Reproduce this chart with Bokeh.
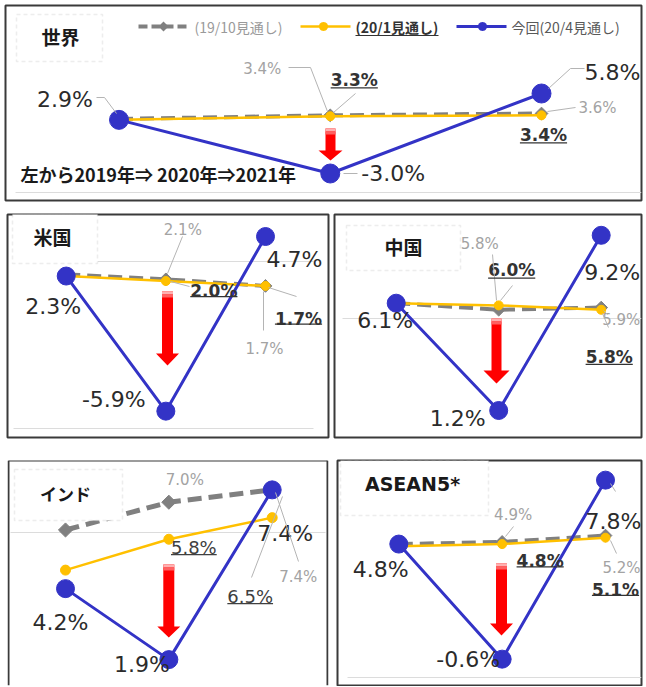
import numpy as np
from bokeh.plotting import figure
from bokeh.layouts import column, row
from bokeh.models import Arrow, BoxAnnotation, Label, PolyAnnotation, Range1d
from bokeh.core.properties import value
from bokeh.embed import file_html
from bokeh.resources import INLINE

# ---------------- data ----------------
years = [2019, 2020, 2021]
xi = [0, 1, 2]

world_oct = [3.0, 3.4, 3.6]
world_jan = [2.9, 3.3, 3.4]
world_apr = [2.9, -3.0, 5.8]

us_oct = [2.4, 2.1, 1.7]
us_jan = [2.3, 2.0, 1.7]
us_apr = [2.3, -5.9, 4.7]

china_oct = [6.1, 5.8, 5.9]
china_jan = [6.1, 6.0, 5.8]
china_apr = [6.1, 1.2, 9.2]

india_oct = [6.1, 7.0, 7.4]
india_jan = [4.8, 5.8, 6.5]
india_apr = [4.2, 1.9, 7.4]

asean_oct = [4.8, 4.9, 5.2]
asean_jan = [4.7, 4.8, 5.1]
asean_apr = [4.8, -0.6, 7.8]

legend_labels = ["(19/10見通し)", "(20/1見通し)", "今回(20/4見通し)"]
panel_titles = ["世界", "米国", "中国", "インド", "ASEAN5*"]
caption = "左から2019年⇒ 2020年⇒2021年"

# ---------------- styles ----------------
BLUE = "#3333C6"
GOLD = "#FFC000"
GRAY = "#808080"
LEAD = "#b4b4b4"
FAINT = "#dcdcdc"
RED = "#FF0000"
EDGE = "#3a3a3a"
JP = "Noto Sans CJK JP"
NUM = "DejaVu Sans"
KINDS = {
    "big": (22, "#2b2b2b", "normal"),
    "gray": (15, "#a3a3a3", "normal"),
    "bold": (17, "#333333", "bold"),
    "ul": (18, "#404040", "normal"),
}


class Panel:
    """box = frame rectangle in page pixels; borders = (left, right, top, bottom)."""

    def __init__(self, box, borders, xpx, a1, a2, outline=True):
        bx0, by0, bx1, by1 = box
        w, h = bx1 - bx0, by1 - by0
        self.w, self.h, self.bx0, self.by0 = w, h, bx0, by0
        s0, s2 = xpx[0] - bx0, xpx[1] - bx0
        self.upx = 2.0 / (s2 - s0)
        self.x0 = -s0 * self.upx
        t1, t2 = a1[0] - by0, a2[0] - by0
        self.vpp = (a1[1] - a2[1]) / (t2 - t1)
        ytop = a1[1] + t1 * self.vpp
        self.y0 = ytop - h * self.vpp
        bl, br, bt, bb = borders
        p = figure(width=w + bl + br, height=h + bt + bb,
                   x_range=Range1d(self.x0, self.x0 + w * self.upx),
                   y_range=Range1d(self.y0, ytop),
                   output_backend="svg", toolbar_location=None,
                   x_axis_location=None, y_axis_location=None,
                   min_border_left=bl, min_border_right=br,
                   min_border_top=bt, min_border_bottom=bb,
                   background_fill_color="white", border_fill_color="white",
                   outline_line_color=EDGE if outline else None,
                   outline_line_width=2)
        p.grid.visible = False
        self.p = p

    def sx(self, x):
        return x - self.bx0

    def sy(self, y):
        return self.h - (y - self.by0)

    def dsx(self, i):
        return (i - self.x0) / self.upx

    def dsy(self, v):
        return (v - self.y0) / self.vpp

    def seg_screen(self, x0, y0, x1, y1, color, width, dash="solid", level="annotation"):
        self.p.add_layout(Arrow(end=None, x_start=x0, y_start=y0, x_end=x1, y_end=y1,
                                start_units="screen", end_units="screen",
                                line_color=color, line_width=width, line_dash=dash,
                                level=level))

    def seg(self, pts, color, width, dash="solid", level="annotation"):
        for (x0, y0), (x1, y1) in zip(pts[:-1], pts[1:]):
            self.seg_screen(self.sx(x0), self.sy(y0), self.sx(x1), self.sy(y1),
                            color, width, dash, level)

    def poly(self, pts, color):
        self.p.add_layout(PolyAnnotation(xs=[self.sx(x) for x, _ in pts],
                                         ys=[self.sy(y) for _, y in pts],
                                         xs_units="screen", ys_units="screen",
                                         fill_color=color, fill_alpha=1.0,
                                         line_color=None))

    def circle(self, cx, cy, r, color):
        ang = np.linspace(0, 2 * np.pi, 24, endpoint=False)
        self.poly([(cx + r * np.cos(a), cy + r * np.sin(a)) for a in ang], color)

    def box(self, l, t, r, b):
        self.p.add_layout(BoxAnnotation(left=self.sx(l), right=self.sx(r),
                                        top=self.sy(t), bottom=self.sy(b),
                                        left_units="screen", right_units="screen",
                                        top_units="screen", bottom_units="screen",
                                        fill_color="white", fill_alpha=1.0,
                                        line_color="#c4c4c4", line_dash="4 3",
                                        line_width=1.5, level="annotation"))

    def label(self, x, y, text, size, color, font, style="normal", align="left"):
        self.p.add_layout(Label(x=self.sx(x), y=self.sy(y), x_units="screen",
                                y_units="screen", text=text, text_font=font,
                                text_font_size=f"{size}px", text_font_style=style,
                                text_color=color, text_align=align,
                                text_baseline="middle"))

    def red_arrow(self, cx, top, tip, sw, hw, hl):
        self.poly([(cx - sw, top), (cx + sw, top), (cx + sw, tip - hl), (cx + hw, tip - hl),
                   (cx, tip), (cx - hw, tip - hl), (cx - sw, tip - hl)], RED)
        # faded top of the shaft
        self.poly([(cx - sw, top), (cx + sw, top), (cx + sw, top + 3), (cx - sw, top + 3)],
                  "#ffb0b0")
        self.poly([(cx - sw, top + 3), (cx + sw, top + 3), (cx + sw, top + 6),
                   (cx - sw, top + 6)], "#ff6060")

    def series(self, oct_, jan_, apr_, gw=4, dsize=9, ysize=9, bsize=18):
        p = self.p
        p.line(xi, oct_, line_color=GRAY, line_width=gw, line_dash="14 7")
        p.scatter(xi, oct_, marker="square", angle=np.pi / 4, size=dsize,
                  fill_color=GRAY, line_color=GRAY)
        p.line(xi, jan_, line_color=GOLD, line_width=2.5)
        p.scatter(xi, jan_, size=ysize, fill_color=GOLD, line_color=GOLD)
        p.line(xi, apr_, line_color=BLUE, line_width=3)
        p.scatter(xi, apr_, size=bsize, fill_color=BLUE, line_color=BLUE)

    def dlabels(self, specs, data):
        for key, i, dx, dy, kind in specs:
            v = data[key][i]
            size, color, style = KINDS[kind]
            self.p.text(x=[i], y=[v], text=[f"{v:.1f}%"], x_offset=dx, y_offset=dy,
                        text_align="center", text_baseline="middle",
                        text_font=value(NUM), text_font_size=f"{size}px",
                        text_font_style=style, text_color=color)
            if kind in ("bold", "ul"):
                wid = (2.774 if style == "bold" else 2.54) * size
                cx = self.dsx(i) + dx
                cy = self.dsy(v) - dy - 0.45 * size
                self.seg_screen(cx - wid / 2, cy, cx + wid / 2, cy, color, 1.2)


# ---------------- World ----------------
W = Panel((5, 5, 641, 200), (5, 4, 5, 5), (118.5, 541), (173, -3.0), (93, 5.8))
W.seg([(15, 192), (641, 192)], FAINT, 1, level="underlay")
W.series(world_oct, world_jan, world_apr, bsize=19)
W.red_arrow(330, 128, 160, 5, 12, 10)
for pts in [[(96, 97), (104, 97), (116, 113)], [(288, 67), (310, 67), (327, 111)],
            [(355, 93), (333, 112)], [(343, 173), (357, 173)],
            [(548, 88), (570, 68), (584, 68)], [(547, 111), (575, 107)]]:
    W.seg(pts, LEAD, 1)
W.dlabels([("apr", 0, -54, -20, "big"), ("apr", 1, 63, 0, "big"), ("apr", 2, 71, -21, "big"),
           ("oct", 1, -68, -46, "gray"), ("jan", 1, 24, -36, "bold"),
           ("oct", 2, 56, -6, "gray"), ("jan", 2, 2, 20, "bold")],
          {"oct": world_oct, "jan": world_jan, "apr": world_apr})
W.box(16, 14, 102, 61)
W.label(60, 36, panel_titles[0], 19, "#1a1a1a", JP, "bold", "center")
W.label(20, 173, caption, 18, "#1a1a1a", JP, "bold", "left")
# legend
W.seg([(138, 26), (190, 26)], GRAY, 4, dash="9 4")
W.poly([(163 - 5, 26), (163, 21), (163 + 5, 26), (163, 31)], GRAY)
W.label(194, 26, legend_labels[0], 14, "#9a9a9a", JP)
W.seg([(300, 26), (350, 26)], GOLD, 2.5)
W.circle(323, 26, 4.5, GOLD)
W.label(355, 26, legend_labels[1], 14, "#333333", JP, "bold")
W.seg([(355, 35), (438, 35)], "#333333", 1.2)
W.seg([(456, 26), (506, 26)], BLUE, 3)
W.circle(482, 26, 4.5, BLUE)
W.label(511, 26, legend_labels[2], 14, "#595959", JP)

# ---------------- US ----------------
U = Panel((7, 213, 328, 439), (7, 3, 8, 9), (65.7, 265), (412.3, -5.9), (235.3, 4.7))
U.seg([(97, 263), (313, 263)], FAINT, 1, level="underlay")
U.seg([(13, 430), (313, 430)], FAINT, 1, level="underlay")
U.series(us_oct, us_jan, us_apr)
U.red_arrow(167, 293, 367, 5.5, 11.5, 12)
for pts in [[(182, 238), (167, 275)], [(170, 283), (189, 288)],
            [(268, 289), (296, 298)], [(263, 293), (263, 332)]]:
    U.seg(pts, LEAD, 1)
U.dlabels([("apr", 0, -13, 30, "big"), ("apr", 1, -52, -12, "big"), ("apr", 2, 29, 23, "big"),
           ("oct", 1, 17, -49, "gray"), ("jan", 1, 48, 10, "bold"),
           ("jan", 2, 33, 32.6, "bold"), ("oct", 2, -1, 62.6, "gray")],
          {"oct": us_oct, "jan": us_jan, "apr": us_apr})
U.box(12, 215, 97, 265)
U.label(52, 238, panel_titles[1], 19, "#1a1a1a", JP, "bold", "center")

# ---------------- China ----------------
C = Panel((334, 214, 641, 437), (3, 4, 9, 11), (395.7, 600.7), (410, 1.2), (234.8, 9.2))
C.seg([(342, 318), (641, 318)], FAINT, 1, level="underlay")
C.series(china_oct, china_jan, china_apr)
C.red_arrow(496, 318, 383, 5, 13, 13)
for pts in [[(492, 254), (496, 300)], [(512, 285), (500, 300)],
            [(603, 310), (607, 314)], [(602, 313), (608, 327)]]:
    C.seg(pts, LEAD, 1)
C.dlabels([("apr", 0, -11, 17, "big"), ("apr", 1, -41, 8, "big"), ("apr", 2, 11, 37, "big"),
           ("oct", 1, -19, -66, "gray"), ("jan", 1, 13, -35, "bold"),
           ("oct", 2, 20, 12, "gray"), ("jan", 2, 8, 47, "bold")],
          {"oct": china_oct, "jan": china_jan, "apr": china_apr})
C.box(346, 225, 460, 270)
C.label(403, 246, panel_titles[2], 19, "#1a1a1a", JP, "bold", "center")

# ---------------- India ----------------
I = Panel((7, 460, 328, 686), (7, 3, 12, 0), (65, 271.7), (660, 1.9), (489.5, 7.4),
          outline=False)
I.seg([(8, 686), (8, 461), (327, 461), (327, 686)], EDGE, 2)
I.seg([(10, 533), (325, 533)], FAINT, 1, level="underlay")
I.series(india_oct, india_jan, india_apr, gw=5, dsize=10, ysize=10)
I.red_arrow(168.3, 565, 638, 5.5, 11.5, 11)
for pts in [[(275, 493), (298, 562)], [(282, 497), (251, 578)]]:
    I.seg(pts, LEAD, 1)
I.dlabels([("apr", 0, -5, 34, "big"), ("apr", 1, -27, 5, "big"), ("apr", 2, 13, 43.5, "big"),
           ("oct", 1, 16, -22, "gray"), ("jan", 1, 25, 8, "ul"),
           ("oct", 2, 26, 87.5, "gray"), ("jan", 2, -22, 78.6, "ul")],
          {"oct": india_oct, "jan": india_jan, "apr": india_apr})
I.box(14, 470, 122, 521)
I.label(65, 494, panel_titles[3], 17, "#1a1a1a", JP, "bold", "center")

# ---------------- ASEAN5 ----------------
A = Panel((337, 457, 641, 685), (6, 4, 9, 1), (398.3, 605), (658.3, -0.6), (476.9, 7.8))
A.seg([(347, 677), (641, 677)], FAINT, 1, level="underlay")
A.series(asean_oct, asean_jan, asean_apr)
A.red_arrow(501, 563, 635, 5.5, 11.5, 12)
for pts in [[(513, 526), (505, 536)], [(610, 540), (616, 553)], [(610, 483), (615, 491)]]:
    A.seg(pts, LEAD, 1)
A.dlabels([("apr", 0, -18, 25, "big"), ("apr", 1, -34, 0, "big"), ("apr", 2, 8, 41, "big"),
           ("oct", 1, 11, -26.5, "gray"), ("jan", 1, 38, 17, "bold"),
           ("oct", 2, 16, 32, "gray"), ("jan", 2, 10, 52, "bold")],
          {"oct": asean_oct, "jan": asean_jan, "apr": asean_apr})
A.box(340, 460, 488, 515)
A.label(412, 483, panel_titles[4], 19, "#1a1a1a", NUM, "bold", "center")

layout = column(W.p, row(U.p, C.p), row(I.p, A.p))

open("out.html", "w").write(file_html(layout, INLINE))
